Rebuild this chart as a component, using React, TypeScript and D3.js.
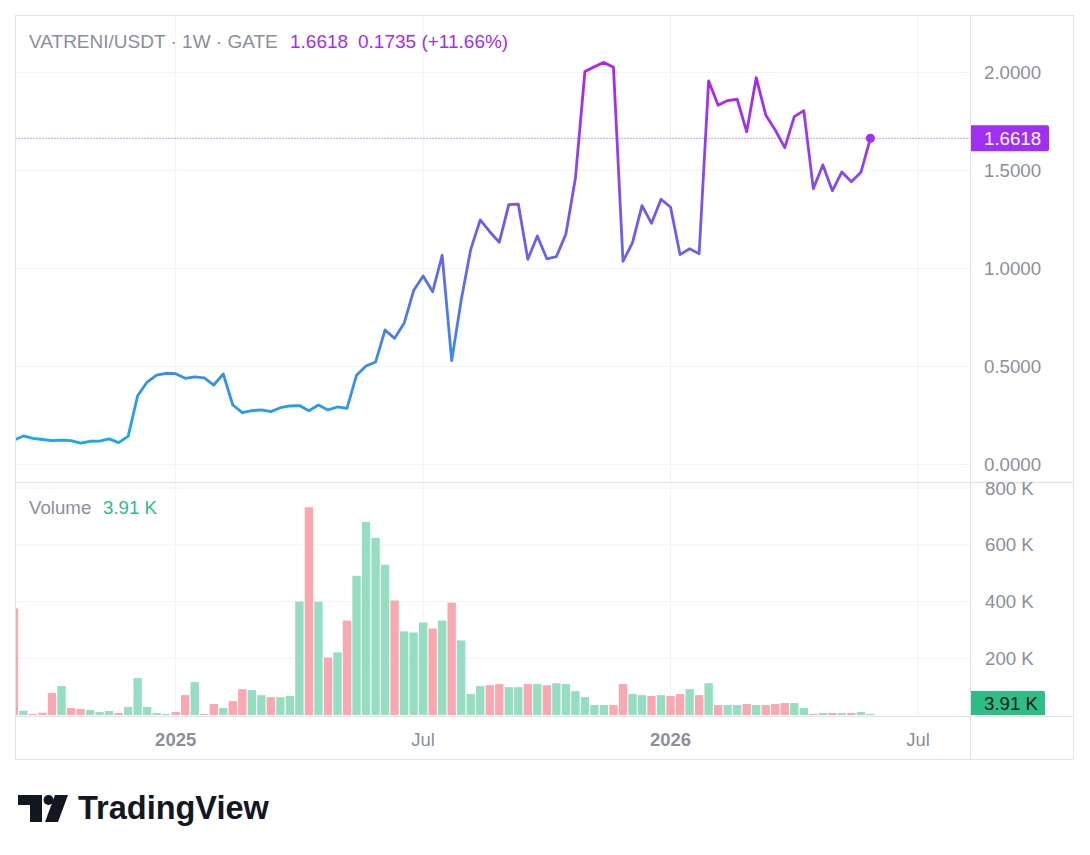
import React from "react";
import * as d3 from "d3";

// weekly bars, first visible week starts Mon 2024-09-09
const FIRST_WEEK = Date.UTC(2024, 8, 9);
const WEEK_MS = 7 * 24 * 3600 * 1000;

const PRICES = [
  0.122, 0.143, 0.131, 0.125, 0.119, 0.122, 0.119, 0.106, 0.116, 0.117, 0.128, 0.109, 0.141, 0.348, 0.418, 0.454, 0.463,
  0.461, 0.437, 0.444, 0.439, 0.403, 0.459, 0.301, 0.262, 0.272, 0.276, 0.267, 0.287, 0.296,
  0.298, 0.272, 0.301, 0.276, 0.291, 0.284, 0.453, 0.5, 0.52, 0.684, 0.641, 0.718, 0.885, 0.959, 0.879, 1.065, 0.527, 0.837,
  1.095, 1.245, 1.185, 1.131, 1.323, 1.326, 1.044, 1.163, 1.047, 1.058, 1.173, 1.458, 2.002, 2.027, 2.049, 2.024, 1.034, 1.129,
  1.318, 1.228, 1.351, 1.31, 1.068, 1.098, 1.073, 1.954,
  1.83, 1.854, 1.861, 1.695, 1.971, 1.781, 1.704, 1.614, 1.772, 1.803, 1.405, 1.526, 1.394, 1.49, 1.44, 1.4883, 1.6618,
];

const VOLUMES_K = [
  376, 15, 3.5, 8, 78, 102, 24.6, 21, 17.5, 10.5, 14, 7, 28, 130, 28, 7, 3.5,
  10.5, 70, 116, 3.5, 38.6, 24.6, 49, 91, 88, 70, 63, 63, 67,
  400, 733, 400, 203, 221, 333, 491, 681, 625, 530, 404, 295, 291, 326, 305, 333, 396, 263,
  74, 102, 105, 109, 98, 98, 109, 109, 105, 112, 109, 84, 63, 35, 35, 35, 109, 74, 70, 67, 70, 67, 74, 91, 70, 112,
  35, 35, 35, 38.6, 35, 35, 38.6, 42, 42, 24.6, 3.5, 7, 7, 7, 7, 10.5, 3.91,
];

const VOLUME_UP = [
  0, 1, 0, 0, 0, 1, 0, 0, 1, 1, 1, 0, 1, 1, 1, 1, 1,
  0, 0, 1, 0, 0, 1, 0, 0, 1, 1, 0, 1, 1,
  1, 0, 1, 0, 1, 0, 1, 1, 1, 1, 0, 1, 1, 1, 0, 1, 0, 1,
  1, 1, 0, 0, 1, 1, 0, 1, 0, 1, 1, 1, 1, 1, 1, 0, 0, 1, 1, 0, 1, 0, 0, 1, 0, 1,
  0, 1, 1, 0, 1, 0, 0, 0, 1, 1, 0, 1, 0, 1, 0, 1, 1,
];

const PRICE_TICKS = [0, 0.5, 1, 1.5, 2];
const VOLUME_TICKS = [200000, 400000, 600000, 800000];
const TIME_TICKS = [
  { date: Date.UTC(2025, 0, 6), label: "2025", year: true },
  { date: Date.UTC(2025, 6, 7), label: "Jul", year: false },
  { date: Date.UTC(2026, 0, 5), label: "2026", year: true },
  { date: Date.UTC(2026, 6, 6), label: "Jul", year: false },
];

const SYMBOL = "VATRENI/USDT · 1W · GATE";
const LAST_PRICE = "1.6618";
const CHANGE = "0.1735 (+11.66%)";
const LAST_VOLUME = "3.91 K";

const FONT = "'Liberation Sans', Arial, sans-serif";

export default function App() {
  const W = 1090, H = 855;
  const L = 15.5, R = 1073.5, T = 15.5, B = 759.5;
  const AX = 970; // price axis separator
  const PANE_SEP = 482;
  const VOL_BOTTOM = 716;

  const x = d3.scaleUtc().domain([Date.UTC(2025, 0, 6), Date.UTC(2026, 6, 6)]).range([175.7, 918]);
  const y = d3.scaleLinear().domain([0, 2]).range([464, 72]);
  const yv = d3.scaleLinear().domain([0, 800000]).range([715, 488.2]);

  const data = PRICES.map((p, i) => ({
    t: FIRST_WEEK + i * WEEK_MS,
    p,
    v: VOLUMES_K[i] * 1000,
    up: VOLUME_UP[i] === 1,
  }));

  const line = d3
    .line<any>()
    .x((d) => x(d.t))
    .y((d) => y(d.p));

  const step = x(FIRST_WEEK + WEEK_MS) - x(FIRST_WEEK);
  const bw = step * 0.88;
  const last = data[data.length - 1];
  const lastY = y(last.p);

  const grid = "#f2f3f5";
  const border = "#e0e3eb";
  const textGray = "#8c8f99";
  const purple = "#a12ef3";

  return (
    <svg width={W} height={H} style={{ position: "fixed", left: 0, top: 0, background: "#fff" }} fontFamily={FONT}>
      <defs>
        <linearGradient id="lineGrad" gradientUnits="userSpaceOnUse" x1="0" y1={y(0.12)} x2="0" y2={y(2.05)}>
          <stop offset="0" stopColor="#1aa8e6" />
          <stop offset="1" stopColor="#b61ef3" />
        </linearGradient>
        <clipPath id="priceClip">
          <rect x={L + 0.5} y={T + 0.5} width={AX - L - 0.5} height={PANE_SEP - T - 1} />
        </clipPath>
        <clipPath id="volClip">
          <rect x={L + 0.5} y={PANE_SEP + 1} width={AX - L - 0.5} height={VOL_BOTTOM - PANE_SEP - 1} />
        </clipPath>
      </defs>
      <rect x={0} y={0} width={W} height={H} fill="#fff" />

      {/* vertical grid */}
      {TIME_TICKS.map((tk, i) => (
        <line key={"vg" + i} x1={x(tk.date)} x2={x(tk.date)} y1={T} y2={VOL_BOTTOM} stroke={grid} strokeWidth={1} />
      ))}
      {/* price grid */}
      {PRICE_TICKS.map((v, i) => (
        <line key={"pg" + i} x1={L} x2={AX} y1={y(v) + 0.5} y2={y(v) + 0.5} stroke={grid} strokeWidth={1} />
      ))}
      {/* volume grid */}
      {VOLUME_TICKS.map((v, i) => (
        <line key={"vgr" + i} x1={L} x2={AX} y1={yv(v)} y2={yv(v)} stroke={grid} strokeWidth={1} />
      ))}

      {/* volume bars */}
      <g clipPath="url(#volClip)">
        {data.map((d, i) => (
          <rect
            key={"b" + i}
            x={x(d.t) - bw / 2}
            y={yv(d.v)}
            width={bw}
            height={yv(0) - yv(d.v)}
            fill={d.up ? "#96dec2" : "#f9a8b0"}
          />
        ))}
      </g>

      {/* price line */}
      <g clipPath="url(#priceClip)">
        <line x1={L} x2={AX} y1={lastY} y2={lastY} stroke={purple} strokeWidth={1} strokeDasharray="1 2" />
        <path d={line(data) || ""} fill="none" stroke="url(#lineGrad)" strokeWidth={2.8} strokeLinejoin="round" />
        <circle cx={x(last.t)} cy={lastY} r={4.5} fill={purple} />
      </g>

      {/* frame lines */}
      <rect x={L} y={T} width={R - L} height={B - T} fill="none" stroke={border} strokeWidth={1} />
      <line x1={AX + 0.5} x2={AX + 0.5} y1={T} y2={B} stroke={border} strokeWidth={1} />
      <line x1={L} x2={R} y1={PANE_SEP + 0.5} y2={PANE_SEP + 0.5} stroke="#e3e5ea" strokeWidth={1.5} />
      <line x1={L} x2={R} y1={VOL_BOTTOM + 0.5} y2={VOL_BOTTOM + 0.5} stroke={border} strokeWidth={1} />

      {/* price axis labels */}
      {PRICE_TICKS.map((v, i) => (
        <text key={"pl" + i} x={984} y={y(v) + 6.5} fontSize={18.7} fill={textGray}>
          {v.toFixed(4)}
        </text>
      ))}
      {/* volume axis labels */}
      {VOLUME_TICKS.map((v, i) => (
        <text key={"vl" + i} x={985} y={yv(v) + 6.5} fontSize={18.7} fill={textGray}>
          {v / 1000 + " K"}
        </text>
      ))}

      {/* last price label */}
      <path
        d={`M${AX + 1},${lastY - 13} H${1047} a2,2 0 0 1 2,2 V${lastY + 11} a2,2 0 0 1 -2,2 H${AX + 1} Z`}
        fill={purple}
      />
      <text x={984} y={lastY + 6.5} fontSize={18.7} fill="#fff">
        {LAST_PRICE}
      </text>

      {/* last volume label */}
      <path d={`M${AX + 1},691 H1043 a2,2 0 0 1 2,2 V715 H${AX + 1} Z`} fill="#2ebd85" />
      <text x={984} y={709.5} fontSize={18.7} fill="#131722">
        {LAST_VOLUME}
      </text>

      {/* time axis */}
      {TIME_TICKS.map((tk, i) => (
        <text
          key={"tl" + i}
          x={x(tk.date)}
          y={745.5}
          fontSize={18.5}
          textAnchor="middle"
          fill={textGray}
          fontWeight={tk.year ? 700 : 400}
        >
          {tk.label}
        </text>
      ))}

      {/* legends */}
      <text x={29} y={47.5} fontSize={19} fill={textGray}>
        {SYMBOL}
      </text>
      <text x={290} y={47.5} fontSize={19} fill={purple}>
        {LAST_PRICE}
      </text>
      <text x={358} y={47.5} fontSize={19} fill={purple}>
        {CHANGE}
      </text>
      <text x={29} y={513.5} fontSize={18.7} fill={textGray}>
        Volume
      </text>
      <text x={103} y={513.5} fontSize={18.7} fill="#2ebd85">
        {LAST_VOLUME}
      </text>

      {/* TradingView logo */}
      <g fill="#131722">
        <path d="M18,795 H42 V822 H30 V805 H18 Z" />
        <circle cx={48.5} cy={800} r={5} />
        <path d="M55,795 H68 L58,822 H45 Z" />
      </g>
      <text x={78} y={819} fontSize={32.5} fontWeight={700} fill="#131722" letterSpacing={0}>
        TradingView
      </text>
    </svg>
  );
}
